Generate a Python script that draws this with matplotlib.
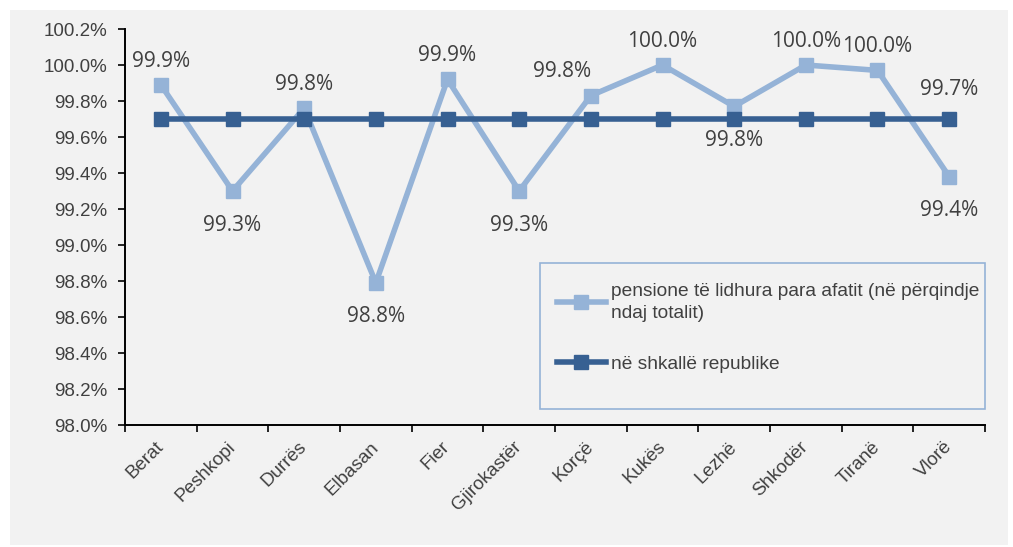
import matplotlib.pyplot as plt
from matplotlib.patches import Rectangle
from matplotlib.ticker import FuncFormatter

cities = ["Berat", "Peshkopi", "Durrës", "Elbasan", "Fier", "Gjirokastër",
          "Korçë", "Kukës", "Lezhë", "Shkodër", "Tiranë", "Vlorë"]
early = [99.89, 99.30, 99.76, 98.79, 99.92, 99.30,
         99.83, 100.0, 99.77, 100.0, 99.97, 99.38]
national = [99.7] * 12
early_labels = ["99.9%", "99.3%", "99.8%", "98.8%", "99.9%", "99.3%",
                "99.8%", "100.0%", "99.8%", "100.0%", "100.0%", "99.4%"]
label_pos = ["up", "down", "up", "down", "up", "down",
             "upleft", "up", "down", "up", "up", "down"]

light = "#95b3d7"
dark = "#376092"
bg = "#f2f2f2"
txt = "#404040"

fig = plt.figure(figsize=(10.13, 5.47), dpi=100)
fig.patch.set_facecolor("white")
fig.patches.append(Rectangle((10 / 1013, 2 / 547), 998 / 1013, 535 / 547,
                             transform=fig.transFigure, facecolor=bg,
                             edgecolor="none", zorder=-10))

ax = fig.add_axes([125 / 1013, 122 / 547, 860 / 1013, 396 / 547])
ax.set_facecolor(bg)
x = list(range(len(cities)))

ax.plot(x, early, color=light, lw=4, marker="s", ms=10, zorder=3,
        label="pensione të lidhura para afatit (në përqindje\nndaj totalit)")
ax.plot(x, national, color=dark, lw=4, marker="s", ms=10, zorder=4,
        label="në shkallë republike")

ax.set_xlim(-0.5, len(cities) - 0.5)
ax.set_ylim(98.0, 100.2)
ax.set_yticks([98.0 + 0.2 * i for i in range(12)])
ax.yaxis.set_major_formatter(FuncFormatter(lambda v, p: f"{v:.1f}%"))
ax.set_xticks([i - 0.5 for i in range(len(cities) + 1)], minor=False)
ax.set_xticklabels([])
ax.set_xticks(x, minor=True)
ax.set_xticklabels(cities, minor=True, rotation=45, ha="right",
                   va="center", rotation_mode="anchor")
ax.tick_params(axis="x", which="minor", length=0, pad=14, labelsize=13.5,
               labelcolor=txt, labelfontfamily="Liberation Sans")
ax.tick_params(axis="x", which="major", length=5, width=1.2, direction="out")
ax.tick_params(axis="y", length=5, width=1.2, direction="out", pad=8,
               labelsize=13.5, labelcolor=txt,
               labelfontfamily="Liberation Sans")

for s in ["top", "right"]:
    ax.spines[s].set_visible(False)
ax.spines["left"].set_linewidth(1.4)
ax.spines["bottom"].set_linewidth(1.4)

lab_kw = dict(textcoords="offset points", fontsize=15, color=txt,
              family="Open Sans", va="center")
for xi, v, t, p in zip(x, early, early_labels, label_pos):
    if p == "up":
        ax.annotate(t, (xi, v), xytext=(0, 17), ha="center", **lab_kw)
    elif p == "down":
        ax.annotate(t, (xi, v), xytext=(0, -24.5), ha="center", **lab_kw)
    else:
        ax.annotate(t, (xi, v), xytext=(0, 17), ha="right", **lab_kw)

ax.annotate("99.7%", (x[-1], national[-1]), xytext=(0, 21.5),
            ha="center", **lab_kw)

ax.add_patch(Rectangle((540 / 1013, 1 - 409 / 547), 445 / 1013, 146 / 547,
                       transform=fig.transFigure, facecolor=bg,
                       edgecolor=light, lw=1.2, zorder=5, clip_on=False))
leg = ax.legend(loc="upper left", bbox_to_anchor=(547 / 1013, 1 - 273 / 547),
                bbox_transform=fig.transFigure, frameon=False, borderpad=0,
                labelspacing=1.75, handlelength=2.6, handletextpad=0.25,
                prop={"family": "Liberation Sans", "size": 13.75})
leg.set_zorder(6)
for t in leg.get_texts():
    t.set_color(txt)
    t.set_linespacing(1.4)

fig.savefig("out.png", dpi=100)
